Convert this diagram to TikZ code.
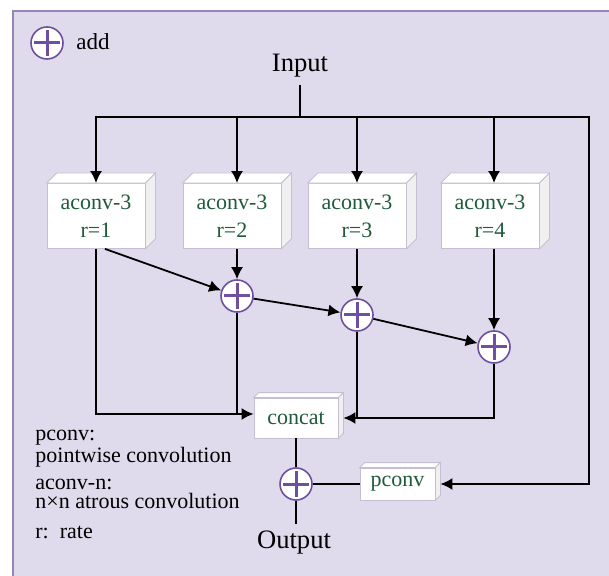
\documentclass[tikz,border=0pt]{standalone}
\usepackage{fontspec}
\setmainfont{Liberation Serif}
\usetikzlibrary{arrows.meta}
\definecolor{panel}{HTML}{DFDBEC}
\definecolor{panelline}{HTML}{9486B8}
\definecolor{addline}{HTML}{6E4FA0}
\definecolor{boxline}{HTML}{C6BFD4}
\definecolor{boxtext}{HTML}{1E5B3A}
\begin{document}
\begin{tikzpicture}[x=0.5pt, y=-0.5pt]
	\tikzset{>={Latex[length=6pt,width=6pt]},
		conv/.style={draw=boxline, fill=white, text=boxtext, align=center, inner sep=0pt,
			font=\fontsize{11}{14}\selectfont},
		aconv/.style={conv, minimum width=49pt, minimum height=32.5pt},
		face/.style={draw=boxline, fill=#1},
		add/.style={circle, draw=addline, line width=0.8pt, fill=white, minimum size=16pt, inner sep=0pt,
			path picture={
				\draw[addline, line width=1.5pt] ([yshift=-1.5pt]path picture bounding box.north) -- ([yshift=1.5pt]path picture bounding box.south);
				\draw[addline, line width=1.5pt] ([xshift=1.5pt]path picture bounding box.west) -- ([xshift=-1.5pt]path picture bounding box.east);}},
		io/.style={font=\fontsize{13.3}{15}\selectfont},
		note/.style={anchor=base west, inner sep=0pt, align=left,
			font=\fontsize{11}{9.3}\selectfont}
	}
	\useasboundingbox (0,0) rectangle (609,576);
	\clip (0,0) rectangle (609,576);
	% background panel
	\fill[panel] (13,11) rectangle (620,590);
	\draw[panelline, line width=0.8pt] (620,11) -- (13,11) -- (13,590);

	% legend
	\node[add] (key) at (47,43) {};
	\node[note, font=\fontsize{11.5}{12}\selectfont] at (76,50) {add};
	\node[note] at (35,462) {pconv:\\pointwise convolution};
	\node[note] at (35,508) {aconv-n:\\n×n atrous convolution};
	\node[note] at (35,538) {r:~~rate};

	\node[io] (input) at (300,66) {Input};
	\coordinate (split) at (300,117);
	\coordinate (tap) at (589,484);

	\node[aconv] (box1) at (96,216) {aconv-3\\r=1};
	\node[aconv] (box2) at (232,216) {aconv-3\\r=2};
	\node[aconv] (box3) at (357,216) {aconv-3\\r=3};
	\node[aconv] (box4) at (490,216) {aconv-3\\r=4};
	\node[conv, minimum width=42pt, minimum height=20pt] (concat) at (296,418) {concat};
	\node[conv, minimum width=37.5pt, minimum height=16pt] (pconv) at (397.5,484) {pconv};
	\coordinate (cleft) at ([yshift=2pt]concat.west);
	\coordinate (cright) at ([xshift=2.5pt]concat.east);

	% depth of the boxes
	\foreach \b/\d in {box1/10,box2/10,box3/10,box4/10,concat/5,pconv/5} {
		\draw[face=white] (\b.north west) -- ([shift={(\d,-\d)}]\b.north west) -- ([shift={(\d,-\d)}]\b.north east) -- (\b.north east) -- cycle;
		\draw[face=gray!12] (\b.north east) -- ([shift={(\d,-\d)}]\b.north east) -- ([shift={(\d,-\d)}]\b.south east) -- (\b.south east) -- cycle;
	}

	\node[add] (plus1) at (237,296) {};
	\node[add] (plus2) at (357,315) {};
	\node[add] (plus3) at (494,347) {};
	\node[add] (plus4) at (296,484) {};
	\node[io] (output) at (294,543) {Output};

	\begin{scope}[line width=0.9pt]
		\draw (input) -- (split);
		\draw[->] (split) -| (box1.north);
		\draw[->] (split) -| (plus1 |- box2.north);
		\draw[->] (split) -| (box3.north);
		\draw[->] (split) -| (plus3 |- box4.north);
		\draw[->] (split) -| (tap) -- ([xshift=2.5pt]pconv.east);

		\draw[->] ([xshift=4.5pt]box1.south) -- (plus1);
		\draw[->] (plus1 |- box2.south) -- (plus1);
		\draw[->] (box3.south) -- (plus2);
		\draw[->] (plus3 |- box4.south) -- (plus3);
		\draw[->] (plus1) -- (plus2);
		\draw[->] (plus2) -- (plus3);

		\draw[->] (box1.south) |- (cleft);
		\draw (plus1) -- (plus1 |- cleft);
		\draw[->] (plus3) |- (cright);
		\draw (plus2) -- (plus2 |- cright);

		\draw (concat) -- (plus4);
		\draw (plus4) -- (pconv);
		\draw (plus4) -- (plus4 |- output.north);
	\end{scope}
\end{tikzpicture}
\end{document}
